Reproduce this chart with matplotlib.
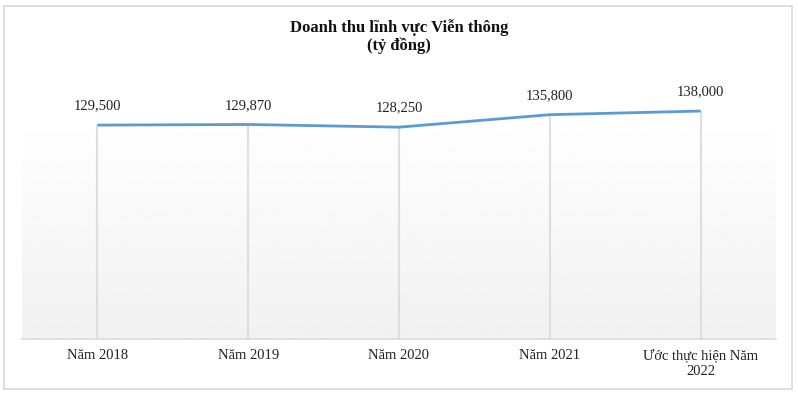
import matplotlib.pyplot as plt
import numpy as np
from matplotlib.patches import Rectangle

# data
categories = ["Năm 2018", "Năm 2019", "Năm 2020", "Năm 2021", "Ước thực hiện Năm\n2022"]
revenue = [129500, 129870, 128250, 135800, 138000]
value_labels = ["129,500", "129,870", "128,250", "135,800", "138,000"]

plt.rcParams['font.family'] = ['Liberation Serif', 'DejaVu Serif']

fig = plt.figure(figsize=(7.98, 3.97), dpi=100)
fig.patch.set_facecolor('white')

# outer chart border
fig.add_artist(Rectangle((4 / 798, 1 - 389 / 397), 788 / 798, 383 / 397,
                         transform=fig.transFigure, fill=False,
                         edgecolor='#d9d9d9', linewidth=1.2))

ax = fig.add_axes([22 / 798, 58 / 397, 754 / 798, 240 / 397])
x = np.arange(len(categories))
ax.set_xlim(-0.5, len(categories) - 0.5)
ax.set_ylim(0, 145300)

# soft vertical gradient for plot area
grad = np.linspace(0.945, 1.0, 256).reshape(-1, 1)
ax.imshow(grad, extent=[-0.5, len(categories) - 0.5, 0, 136000], aspect='auto',
          cmap='gray', vmin=0, vmax=1, origin='lower', zorder=0)

# drop lines
ax.vlines(x, 0, revenue, colors='#dedede', linewidth=1.5, zorder=1)

ax.plot(x, revenue, color='#5b9bd5', linewidth=2.0, zorder=3, solid_capstyle='butt')

for xi, yi, lab in zip(x, revenue, value_labels):
    ax.annotate(lab, (xi, yi), xytext=(0, 9), textcoords='offset points',
                ha='center', va='bottom', fontsize=10.5, color='#222222')

for s in ['top', 'left', 'right']:
    ax.spines[s].set_visible(False)
ax.spines['bottom'].set_color('#d9d9d9')
ax.spines['bottom'].set_linewidth(1.2)
ax.set_yticks([])
ax.set_xticks(x)
ax.set_xticklabels(categories, fontsize=10.5, color='#222222', linespacing=1.3)
ax.tick_params(axis='x', length=0, pad=7)

fig.text(0.5, 1 - 19 / 397, "Doanh thu lĩnh vực Viễn thông\n(tỷ đồng)",
         ha='center', va='top', fontsize=12, fontweight='bold', color='#111111',
         linespacing=1.1)

fig.savefig('out.png', dpi=100)
